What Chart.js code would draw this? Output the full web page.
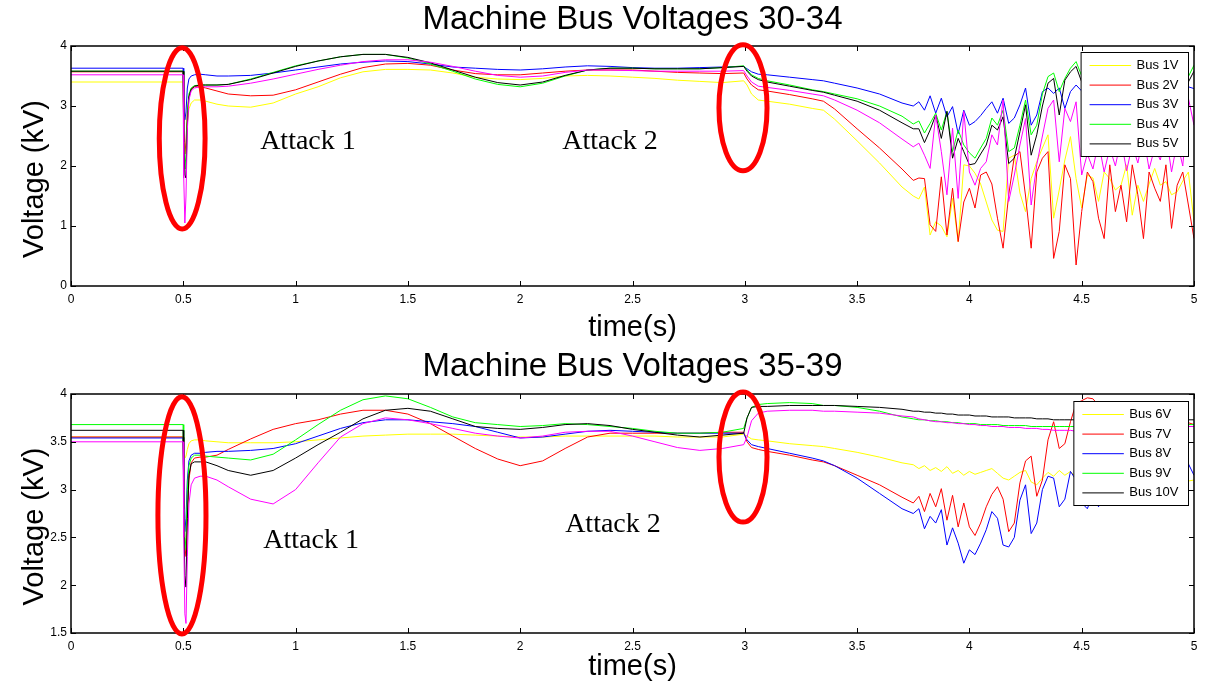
<!DOCTYPE html>
<html>
<head>
<meta charset="utf-8">
<script src="https://cdn.jsdelivr.net/npm/chart.js@4.4.1/dist/chart.umd.min.js"></script>
<style>
  body { margin: 0; background: #fff; }
  canvas { display: block; }
</style>
</head>
<body>
<canvas id="chartTop" width="1207" height="346"></canvas>
<canvas id="chartBottom" width="1207" height="346"></canvas>
<script>
// time axis (s): coarse before 3.75 s, 25 ms steps in the unstable part
const time = [
  0, 0.499, 0.502, 0.507, 0.512, 0.518, 0.525, 0.535, 0.55, 0.575,
  0.6, 0.65, 0.7, 0.8, 0.9, 1.0, 1.1, 1.2, 1.3, 1.4,
  1.5, 1.6, 1.7, 1.8, 1.9, 2.0, 2.1, 2.2, 2.3, 2.4,
  2.5, 2.6, 2.7, 2.8, 2.9, 2.995, 3.01, 3.03, 3.06, 3.1,
  3.2, 3.3, 3.35, 3.4, 3.5, 3.6, 3.7, 3.75,
  3.775, 3.8, 3.825, 3.85, 3.875, 3.9, 3.925, 3.95, 3.975, 4.0,
  4.025, 4.05, 4.075, 4.1, 4.125, 4.15, 4.175, 4.2, 4.225, 4.25,
  4.275, 4.3, 4.325, 4.35, 4.375, 4.4, 4.425, 4.45, 4.475, 4.5,
  4.525, 4.55, 4.575, 4.6, 4.625, 4.65, 4.675, 4.7, 4.725, 4.75,
  4.775, 4.8, 4.825, 4.85, 4.875, 4.9, 4.925, 4.95, 4.975, 5.0
];

const xTicks = [0, 0.5, 1, 1.5, 2, 2.5, 3, 3.5, 4, 4.5, 5];
const yTicksTop = [0, 1, 2, 3, 4];
const yTicksBottom = [1.5, 2, 2.5, 3, 3.5, 4];

// Machine bus voltages 30-34 (kV)
const bus1V = [
  3.40, 3.40, 2.6, 2.2, 2.3, 2.7, 2.95, 3.05, 3.1, 3.1,
  3.08, 3.03, 3.0, 2.98, 3.05, 3.2, 3.32, 3.47, 3.57, 3.61,
  3.61, 3.6, 3.55, 3.48, 3.45, 3.44, 3.46, 3.5, 3.51, 3.5,
  3.48, 3.46, 3.43, 3.41, 3.39, 3.42, 3.35, 3.2, 3.1, 3.08,
  3.03, 2.96, 2.93, 2.78, 2.42, 2.05, 1.65, 1.5,
  1.45, 1.65, 0.85, 1.07, 1.0, 0.82, 1.46, 0.74, 2.02, 2.0,
  1.88, 1.7, 1.4, 1.1, 0.93, 0.91, 2.13, 2.18, 1.55, 1.24,
  1.79, 2.07, 2.3, 2.52, 1.13, 1.6, 2.1, 2.49, 1.79, 1.3,
  1.85, 1.8, 1.41, 1.9, 1.79, 1.6, 1.68, 2.02, 1.18, 1.68,
  1.41, 1.7, 1.96, 1.68, 1.74, 1.52, 1.57, 1.75, 1.9, 1.07
];
const bus2V = [
  3.57, 3.57, 2.7, 2.2, 2.4, 2.9, 3.15, 3.28, 3.32, 3.32,
  3.3, 3.25, 3.2, 3.17, 3.18, 3.27, 3.4, 3.53, 3.64, 3.7,
  3.71, 3.68, 3.6, 3.54, 3.52, 3.52, 3.55, 3.58, 3.6, 3.6,
  3.6, 3.58, 3.56, 3.55, 3.54, 3.55, 3.45, 3.35, 3.27, 3.25,
  3.19, 3.12, 3.08, 2.95, 2.62, 2.3, 1.95, 1.76,
  1.8, 1.79, 1.02, 0.91, 1.82, 0.85, 1.63, 0.74, 1.4, 1.63,
  1.3, 1.85, 1.9, 1.7, 1.13, 0.63, 1.52, 2.16, 2.24, 1.5,
  0.63, 1.9, 2.13, 2.24, 0.46, 0.91, 2.02, 1.79, 0.35, 1.24,
  1.9, 1.74, 1.13, 0.79, 2.02, 1.24, 1.68, 1.07, 2.02, 1.52,
  0.79, 1.9, 1.63, 1.41, 2.02, 0.96, 1.68, 1.9, 1.35, 0.79
];
const bus3V = [
  3.63, 3.63, 3.1, 2.77, 2.9, 3.3, 3.45, 3.5, 3.52, 3.53,
  3.52, 3.5, 3.5, 3.51, 3.55, 3.6, 3.65, 3.7, 3.73, 3.75,
  3.74, 3.7, 3.65, 3.63, 3.61, 3.6, 3.62, 3.65, 3.67, 3.66,
  3.64, 3.63, 3.63, 3.64, 3.65, 3.66, 3.62, 3.57, 3.53, 3.52,
  3.48, 3.44, 3.42, 3.38, 3.3, 3.2, 3.05, 3.0,
  3.07, 2.93, 3.17, 2.88, 3.13, 2.82, 2.99, 2.54, 2.93, 2.68,
  2.74, 2.84, 2.96, 3.07, 2.88, 3.13, 2.71, 2.8, 3.02, 3.3,
  2.68, 2.85, 3.24, 3.3, 3.21, 3.3, 2.96, 3.24, 3.35, 3.25,
  3.1, 3.3, 3.15, 3.25, 3.05, 3.3, 3.1, 3.2, 3.0, 3.25,
  3.1, 3.3, 3.15, 3.0, 3.2, 3.1, 3.25, 3.16, 3.32, 3.29
];
const bus4V = [
  3.58, 3.58, 2.5, 1.95, 2.2, 2.9, 3.2, 3.3, 3.34, 3.35,
  3.35, 3.35, 3.36, 3.45, 3.56, 3.67, 3.75, 3.82, 3.86, 3.86,
  3.8, 3.7, 3.58, 3.45, 3.36, 3.32, 3.38, 3.5, 3.6, 3.63,
  3.63, 3.62, 3.62, 3.62, 3.64, 3.67, 3.6, 3.52, 3.46, 3.42,
  3.35, 3.27, 3.24, 3.2, 3.12, 3.0, 2.83, 2.7,
  2.75, 2.55, 2.71, 2.88, 2.6, 2.91, 2.24, 2.6, 2.35, 2.22,
  2.13, 2.3, 2.46, 2.8, 2.68, 2.93, 2.24, 2.3, 2.68, 3.1,
  2.52, 2.68, 3.2, 3.49, 3.55, 3.24, 3.46, 3.63, 3.74, 3.5,
  3.3, 3.6, 3.4, 3.55, 3.3, 3.65, 3.45, 3.6, 3.35, 3.55,
  3.4, 3.65, 3.5, 3.3, 3.55, 3.4, 3.6, 3.45, 3.49, 3.68
];
const bus5V = [
  3.58, 3.58, 2.4, 1.85, 1.8, 2.7, 3.15, 3.28, 3.33, 3.35,
  3.35, 3.35, 3.36, 3.44, 3.55, 3.66, 3.75, 3.82, 3.86, 3.86,
  3.81, 3.72, 3.6, 3.48, 3.39, 3.35, 3.4, 3.51, 3.6, 3.63,
  3.63, 3.62, 3.62, 3.62, 3.64, 3.66, 3.58, 3.5, 3.44, 3.4,
  3.33, 3.26, 3.23, 3.18, 3.08, 2.93, 2.72, 2.62,
  2.62, 2.39, 2.6, 2.85, 2.46, 2.91, 2.13, 2.46, 2.24, 2.02,
  2.04, 2.2, 2.35, 2.68, 2.6, 2.82, 2.04, 2.13, 2.57, 3.02,
  2.18, 2.52, 3.0, 3.38, 3.46, 2.85, 3.43, 3.57, 3.66, 3.4,
  3.2, 3.5, 3.3, 3.45, 3.2, 3.55, 3.35, 3.5, 3.25, 3.45,
  3.3, 3.55, 3.4, 3.2, 3.45, 3.3, 3.5, 3.35, 3.4, 3.58
];
// sixth trace plotted but not in the legend
const extraTop = [
  3.52, 3.52, 1.8, 1.05, 1.5, 2.6, 3.1, 3.25, 3.3, 3.32,
  3.32, 3.32, 3.33, 3.38, 3.45, 3.53, 3.61, 3.68, 3.74, 3.77,
  3.77, 3.73, 3.66, 3.58, 3.51, 3.48, 3.5, 3.56, 3.6, 3.6,
  3.59, 3.58, 3.58, 3.58, 3.58, 3.59, 3.5, 3.4, 3.33, 3.31,
  3.26, 3.2, 3.17, 3.1, 2.93, 2.72, 2.45, 2.32,
  2.38, 2.18, 1.96, 2.85, 2.24, 1.52, 2.63, 1.46, 2.91, 1.9,
  1.68, 1.96, 2.07, 2.52, 2.35, 3.1, 1.41, 1.85, 2.35, 2.79,
  1.35, 2.02, 2.5, 2.96, 3.1, 2.07, 2.96, 2.74, 3.07, 1.85,
  2.2, 1.95, 2.4, 1.9, 2.3, 2.0, 2.45, 1.92, 2.35, 2.05,
  2.5, 1.95, 2.3, 2.1, 2.55, 1.9, 2.4, 2.0, 3.13, 2.68
];

// Machine bus voltages 35-39 (kV)
const bus6V = [
  3.55, 3.55, 3.45, 3.33, 3.35, 3.42, 3.48, 3.51, 3.52, 3.52,
  3.51, 3.5, 3.49, 3.49, 3.49, 3.5, 3.52, 3.54, 3.56, 3.57,
  3.58, 3.58, 3.58, 3.57, 3.56, 3.55, 3.55, 3.56, 3.56, 3.56,
  3.56, 3.56, 3.55, 3.55, 3.55, 3.58, 3.56, 3.53, 3.52, 3.51,
  3.48, 3.46, 3.45, 3.43, 3.39, 3.34, 3.28, 3.26,
  3.22, 3.25, 3.2, 3.23, 3.19, 3.24, 3.17, 3.2, 3.15, 3.19,
  3.16, 3.18, 3.2, 3.22, 3.17, 3.12, 3.1, 3.14, 3.18, 3.2,
  3.08, 3.05, 3.12, 3.18, 3.14, 3.2, 3.15, 3.19, 3.13, 3.17,
  3.12, 3.16, 3.1, 3.15, 3.11, 3.14, 3.09, 3.13, 3.1, 3.15,
  3.11, 3.13, 3.08, 3.12, 3.09, 3.14, 3.1, 3.12, 3.09, 3.1
];
const bus7V = [
  3.55, 3.55, 3.0, 2.4, 2.3, 2.7, 3.1, 3.28, 3.33, 3.34,
  3.34, 3.36, 3.42, 3.53, 3.63, 3.69, 3.73, 3.79, 3.83, 3.83,
  3.79, 3.69, 3.56, 3.43, 3.32, 3.25, 3.3, 3.43, 3.55, 3.59,
  3.59, 3.59, 3.59, 3.59, 3.6, 3.6, 3.5, 3.44, 3.42, 3.4,
  3.36, 3.31, 3.29, 3.25, 3.15, 3.05, 2.92, 2.86,
  2.93, 2.77, 2.96, 2.82, 3.01, 2.68, 2.94, 2.61, 2.86, 2.61,
  2.52, 2.65, 2.82, 2.95, 3.03, 2.9, 2.56, 2.65, 3.07, 3.3,
  3.35, 2.93, 3.1, 3.52, 3.71, 3.43, 3.48, 3.71, 3.9, 3.93,
  3.96, 3.95, 3.88, 3.8, 3.85, 3.75, 3.82, 3.7, 3.78, 3.72,
  3.8, 3.7, 3.76, 3.68, 3.74, 3.66, 3.72, 3.65, 3.7, 3.68
];
const bus8V = [
  3.54, 3.54, 3.0, 2.56, 2.7, 3.1, 3.3, 3.36, 3.38, 3.38,
  3.39, 3.4, 3.4, 3.41, 3.43, 3.48, 3.56, 3.64, 3.7, 3.73,
  3.73, 3.71, 3.69, 3.66, 3.6, 3.54, 3.55, 3.58, 3.61, 3.62,
  3.61, 3.6, 3.59, 3.59, 3.59, 3.59, 3.52, 3.47, 3.45, 3.43,
  3.38, 3.33, 3.3, 3.25, 3.12, 2.96, 2.8, 2.75,
  2.8, 2.59, 2.72, 2.65, 2.79, 2.42, 2.6, 2.44, 2.23, 2.37,
  2.32, 2.44, 2.58, 2.77, 2.7, 2.42, 2.4, 2.5, 2.89, 3.05,
  2.54, 2.65, 3.0, 3.14, 3.12, 2.82, 2.9, 3.19, 3.1, 2.86,
  2.8, 2.95, 2.82, 3.0, 2.9, 3.05, 2.92, 3.1, 2.95, 3.05,
  2.9, 3.1, 2.98, 3.12, 3.0, 3.15, 3.02, 3.2, 3.27, 3.15
];
const bus9V = [
  3.68, 3.68, 3.0, 2.37, 2.5, 3.0, 3.25, 3.33, 3.36, 3.36,
  3.35, 3.34, 3.33, 3.31, 3.37, 3.52, 3.68, 3.83, 3.94, 3.98,
  3.95, 3.86, 3.76, 3.7, 3.68, 3.66, 3.67, 3.69, 3.68, 3.66,
  3.64, 3.61, 3.59, 3.59, 3.6, 3.64, 3.75, 3.86, 3.89, 3.9,
  3.91, 3.9, 3.88, 3.88, 3.86, 3.82, 3.76, 3.74,
  3.73, 3.73, 3.72, 3.72, 3.71, 3.71, 3.7, 3.7, 3.69, 3.69,
  3.69, 3.68, 3.68, 3.68, 3.68, 3.67, 3.67, 3.67, 3.67, 3.67,
  3.66, 3.66, 3.66, 3.66, 3.66, 3.66, 3.66, 3.66, 3.66, 3.66,
  3.66, 3.66, 3.66, 3.67, 3.67, 3.67, 3.67, 3.67, 3.67, 3.67,
  3.67, 3.68, 3.68, 3.68, 3.68, 3.68, 3.68, 3.68, 3.68, 3.68
];
const bus10V = [
  3.62, 3.62, 2.8, 2.1, 1.98, 2.7, 3.15, 3.27, 3.29, 3.29,
  3.29, 3.25, 3.2, 3.15, 3.2, 3.33, 3.47, 3.6, 3.74, 3.83,
  3.85, 3.82, 3.74, 3.66, 3.64, 3.63, 3.65, 3.68, 3.69, 3.67,
  3.63, 3.6, 3.57, 3.55, 3.57, 3.59, 3.75, 3.86, 3.87, 3.87,
  3.88, 3.88, 3.88, 3.88, 3.87, 3.86, 3.84, 3.82,
  3.82, 3.81, 3.81, 3.8, 3.8, 3.79, 3.79, 3.78, 3.78, 3.78,
  3.77, 3.77, 3.77, 3.76, 3.76, 3.76, 3.76, 3.75, 3.75, 3.75,
  3.75, 3.74, 3.74, 3.74, 3.73, 3.73, 3.73, 3.73, 3.73, 3.73,
  3.73, 3.73, 3.73, 3.73, 3.73, 3.73, 3.73, 3.73, 3.73, 3.73,
  3.73, 3.73, 3.73, 3.73, 3.73, 3.73, 3.73, 3.73, 3.73, 3.73
];
const extraBottom = [
  3.5, 3.5, 2.5, 1.7, 1.6, 2.3, 2.85, 3.05, 3.12, 3.14,
  3.14, 3.1, 3.03, 2.9, 2.85, 3.0, 3.28, 3.55, 3.69, 3.75,
  3.73, 3.69, 3.64, 3.59, 3.56, 3.54, 3.56, 3.6, 3.61, 3.61,
  3.56, 3.5, 3.44, 3.41, 3.43, 3.47, 3.55, 3.72, 3.8, 3.82,
  3.83, 3.83, 3.82, 3.82, 3.81, 3.8, 3.77, 3.76,
  3.74, 3.73, 3.72, 3.71, 3.71, 3.7, 3.7, 3.69, 3.69, 3.68,
  3.68, 3.67, 3.67, 3.66, 3.66, 3.66, 3.65, 3.65, 3.65, 3.64,
  3.64, 3.64, 3.63, 3.63, 3.62, 3.62, 3.62, 3.62, 3.61, 3.61,
  3.61, 3.61, 3.61, 3.61, 3.62, 3.62, 3.62, 3.62, 3.63, 3.63,
  3.63, 3.64, 3.64, 3.64, 3.65, 3.65, 3.65, 3.66, 3.66, 3.66
];

// red rings and labels marking the attacks (data units)
const ringsTop = [
  { t: 0.495, v: 2.46, rt: 0.102, rv: 1.51 },
  { t: 2.992, v: 2.97, rt: 0.107, rv: 1.05 }
];
const notesTop = [
  { t: 1.055, v: 2.4, text: 'Attack 1' },
  { t: 2.40, v: 2.4, text: 'Attack 2' }
];
const ringsBottom = [
  { t: 0.494, v: 2.73, rt: 0.107, rv: 1.24 },
  { t: 2.992, v: 3.34, rt: 0.107, rv: 0.68 }
];
const notesBottom = [
  { t: 1.069, v: 2.47, text: 'Attack 1' },
  { t: 2.413, v: 2.63, text: 'Attack 2' }
];

const SANS = '"Liberation Sans", Arial, Helvetica, sans-serif';
const SERIF = '"Liberation Serif", "Times New Roman", serif';

// matlab-like frame, inward ticks, boxed legend, y label, annotations
const matlabLook = {
  id: 'matlabLook',
  afterDatasetsDraw(chart, args, opts) {
    const { ctx, chartArea: a, scales: { x, y } } = chart;
    ctx.save();

    // legend
    const items = chart.data.datasets.filter(d => d.inLegend);
    ctx.font = '13px ' + SANS;
    const textW = Math.max(...items.map(d => ctx.measureText(d.label).width));
    const w = 8.5 + 41.5 + 5.5 + textW + 10;
    const h = 104;
    const right = a.right - 5.5;
    const left = right - w;
    const top = a.top + opts.legendTop;
    ctx.fillStyle = '#fff';
    ctx.fillRect(left, top, w, h);
    ctx.lineWidth = 1;
    ctx.strokeStyle = '#000';
    ctx.strokeRect(left, top, w, h);
    ctx.textBaseline = 'middle';
    items.forEach((d, i) => {
      const cy = top + 13 + 19.6 * i;
      ctx.beginPath();
      ctx.strokeStyle = d.borderColor;
      ctx.moveTo(left + 8.5, cy);
      ctx.lineTo(left + 50, cy);
      ctx.stroke();
      ctx.fillStyle = '#000';
      ctx.fillText(d.label, left + 55.5, cy);
    });

    // box and ticks
    ctx.strokeStyle = '#000';
    ctx.lineWidth = 1.5;
    ctx.strokeRect(a.left, a.top, a.right - a.left, a.bottom - a.top);
    ctx.lineWidth = 1;
    ctx.beginPath();
    x.ticks.forEach(t => {
      const px = Math.round(x.getPixelForValue(t.value)) + 0.5;
      ctx.moveTo(px, a.bottom); ctx.lineTo(px, a.bottom - 5);
      ctx.moveTo(px, a.top); ctx.lineTo(px, a.top + 5);
    });
    y.ticks.forEach(t => {
      const py = Math.round(y.getPixelForValue(t.value)) + 0.5;
      ctx.moveTo(a.left, py); ctx.lineTo(a.left + 5, py);
      ctx.moveTo(a.right, py); ctx.lineTo(a.right - 5, py);
    });
    ctx.stroke();

    // y label, sits a little below the middle like matlab does
    ctx.fillStyle = '#000';
    ctx.font = '29px ' + SANS;
    ctx.textAlign = 'center';
    ctx.textBaseline = 'middle';
    ctx.translate(35, (a.top + a.bottom) / 2 + 13);
    ctx.rotate(-Math.PI / 2);
    ctx.fillText('Voltage (kV)', 0, 0);
    ctx.restore();
  },
  afterDraw(chart, args, opts) {
    const { ctx, scales: { x, y } } = chart;
    ctx.save();
    ctx.strokeStyle = '#ff0000';
    ctx.lineWidth = 5;
    opts.rings.forEach(r => {
      const cx = x.getPixelForValue(r.t);
      const cy = y.getPixelForValue(r.v);
      const rx = x.getPixelForValue(r.t + r.rt) - cx;
      const ry = cy - y.getPixelForValue(r.v + r.rv);
      ctx.beginPath();
      ctx.ellipse(cx, cy, rx, ry, 0, 0, Math.PI * 2);
      ctx.stroke();
    });
    ctx.fillStyle = '#000';
    ctx.font = '28px ' + SERIF;
    ctx.textAlign = 'center';
    ctx.textBaseline = 'middle';
    opts.notes.forEach(n => {
      ctx.fillText(n.text, x.getPixelForValue(n.t), y.getPixelForValue(n.v));
    });
    ctx.restore();
  }
};

function trace(label, values, color, order, inLegend) {
  return {
    label: label,
    data: time.map((t, i) => ({ x: t, y: values[i] })),
    borderColor: color,
    borderWidth: 1,
    pointRadius: 0,
    fill: false,
    tension: 0,
    order: order,
    inLegend: inLegend
  };
}

function makeChart(id, cfg) {
  return new Chart(document.getElementById(id), {
    type: 'line',
    data: { datasets: cfg.datasets },
    options: {
      responsive: false,
      animation: false,
      devicePixelRatio: 1,
      events: [],
      layout: { padding: { left: 0, right: 13, top: 0, bottom: 0 } },
      scales: {
        x: {
          type: 'linear',
          min: 0,
          max: 5,
          afterBuildTicks: s => { s.ticks = xTicks.map(v => ({ value: v })); },
          afterFit: s => { s.height = cfg.xHeight; },
          ticks: {
            font: { size: 12, family: SANS }, color: '#000', padding: 6,
            maxRotation: 0, autoSkip: false, callback: v => String(v)
          },
          grid: { display: false, drawTicks: false },
          border: { display: false },
          title: {
            display: true, text: 'time(s)', color: '#000',
            font: { size: 29, family: SANS },
            padding: { top: 0, bottom: cfg.xTitleBottom }
          }
        },
        y: {
          type: 'linear',
          min: cfg.yTicks[0],
          max: cfg.yTicks[cfg.yTicks.length - 1],
          afterBuildTicks: s => { s.ticks = cfg.yTicks.map(v => ({ value: v })); },
          afterFit: s => { s.width = 71; },
          ticks: {
            font: { size: 12, family: SANS }, color: '#000', padding: 4,
            callback: v => String(v)
          },
          grid: { display: false, drawTicks: false },
          border: { display: false }
        }
      },
      plugins: {
        legend: { display: false },
        tooltip: { enabled: false },
        title: {
          display: true, text: cfg.title, color: '#000', fullSize: false,
          font: { size: 33, family: SANS, weight: 'normal', lineHeight: 1 },
          padding: { top: cfg.titleTop, bottom: cfg.titleBottom }
        },
        matlabLook: { rings: cfg.rings, notes: cfg.notes, legendTop: cfg.legendTop }
      }
    },
    plugins: [matlabLook]
  });
}

makeChart('chartTop', {
  title: 'Machine Bus Voltages 30-34',
  titleTop: 3,
  titleBottom: 10,
  xHeight: 60,
  xTitleBottom: 1,
  legendTop: 6.5,
  yTicks: yTicksTop,
  rings: ringsTop,
  notes: notesTop,
  datasets: [
    trace('Bus 1V', bus1V, '#ffff00', 5, true),
    trace('Bus 2V', bus2V, '#ff0000', 4, true),
    trace('Bus 3V', bus3V, '#0000ff', 3, true),
    trace('Bus 4V', bus4V, '#00ff00', 2, true),
    trace('Bus 5V', bus5V, '#000000', 1, true),
    trace('', extraTop, '#ff00ff', 0, false)
  ]
});

makeChart('chartBottom', {
  title: 'Machine Bus Voltages 35-39',
  titleTop: 4,
  titleBottom: 11,
  xHeight: 59,
  xTitleBottom: 8,
  legendTop: 7.5,
  yTicks: yTicksBottom,
  rings: ringsBottom,
  notes: notesBottom,
  datasets: [
    trace('Bus 6V', bus6V, '#ffff00', 5, true),
    trace('Bus 7V', bus7V, '#ff0000', 4, true),
    trace('Bus 8V', bus8V, '#0000ff', 3, true),
    trace('Bus 9V', bus9V, '#00ff00', 2, true),
    trace('Bus 10V', bus10V, '#000000', 1, true),
    trace('', extraBottom, '#ff00ff', 0, false)
  ]
});
</script>
</body>
</html>
